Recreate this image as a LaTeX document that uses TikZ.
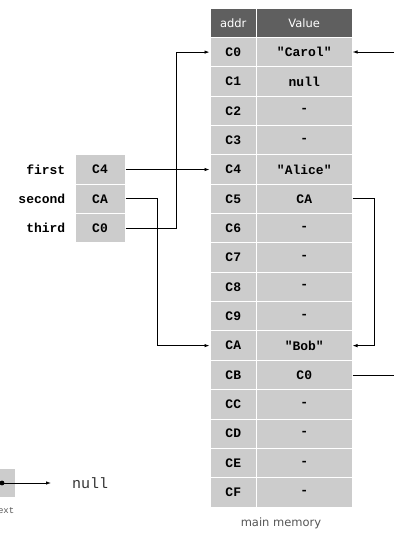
\documentclass[tikz,border=0pt]{standalone}
\usepackage{fontspec}
\setmainfont{Liberation Serif}
\newfontfamily\memfont{Liberation Mono}
\newfontfamily\hdrfont{DejaVu Sans}
\usetikzlibrary{arrows.meta}
\definecolor{cellgray}{HTML}{CCCCCC}
\definecolor{hdrgray}{HTML}{5F5F5F}
\definecolor{capgray}{HTML}{555555}
\begin{document}
\begin{tikzpicture}[x=1pt,y=-1pt,
  cell/.style={draw=white,line width=1pt,fill=cellgray,inner sep=0pt,
    font=\memfont\bfseries\fontsize{13}{15}\selectfont},
  addrcell/.style={cell,minimum width=46.5pt,minimum height=29.35pt},
  valcell/.style={cell,minimum width=95.5pt,minimum height=29.35pt},
  varcell/.style={cell,minimum width=50pt,minimum height=29.35pt},
  hdr/.style={draw=white,line width=1pt,fill=hdrgray,inner sep=0pt,text=white,
    minimum height=29.35pt,font=\hdrfont\fontsize{11.5}{13}\selectfont},
  varlabel/.style={anchor=east,inner sep=0pt,font=\memfont\bfseries\fontsize{13}{15}\selectfont},
  link/.style={draw=black,line width=0.8pt},
  arr/.style={link,-{Latex[length=5pt,width=3.5pt]}}
]
\useasboundingbox (0,0) rectangle (394,534);
% header
\node[hdr,minimum width=46.5pt] (ha) at (233.25,22.8) {addr};
\node[hdr,minimum width=95.5pt] (hv) at (304.25,22.8) {Value};
% memory rows
\foreach \k/\a/\v [count=\i] in {0/C0/"Carol",1/C1/null,2/C2/-,3/C3/-,4/C4/"Alice",5/C5/CA,6/C6/-,7/C7/-,8/C8/-,9/C9/-,A/CA/"Bob",B/CB/C0,C/CC/-,D/CD/-,E/CE/-,F/CF/-}{
  \node[addrcell] (a\k) at (233.25,{8.1+\i*29.35+14.675}) {\a};
  \node[valcell] (v\k) at (304.25,{8.1+\i*29.35+14.675}) {\v};
}
\node[font=\hdrfont\fontsize{11.5}{13}\selectfont,text=capgray] (cap) at (281,523) {main memory};
% variables
\node[varcell] (first) at (100,{8.1+5*29.35+14.675}) {C4};
\node[varcell] (second) at (100,{8.1+6*29.35+14.675}) {CA};
\node[varcell] (third) at (100,{8.1+7*29.35+14.675}) {C0};
\node[varlabel] (lfirst) at ([xshift=-9pt]first.west) {first};
\node[varlabel] (lsecond) at ([xshift=-9pt]second.west) {second};
\node[varlabel] (lthird) at ([xshift=-9pt]third.west) {third};
% connectors from variables
\coordinate (xsec) at (157,0);
\coordinate (xthi) at (176,0);
\draw[arr] (first.east) -- (a4.west);
\draw[arr] (second.east) -| (xsec |- aA.west) -- (aA.west);
\draw[arr] (third.east) -| (xthi |- a0.west) -- (a0.west);
% memory links
\coordinate (loopx) at (374,0);
\draw[arr] (v5.east) -- (loopx |- v5.east) -- (loopx |- vA.east) -- (vA.east);
\coordinate (inC0) at (394,52);
\draw[arr] (inC0) -- (inC0 -| v0.east);
\coordinate (outCB) at (394,0);
\draw[link] (vB.east) -- (outCB |- vB.east);
% partial node bottom-left
\node[draw=white,line width=1pt,fill=cellgray,minimum width=40pt,minimum height=29pt,inner sep=0pt] (nbox) at (-5,483) {};
\node[inner sep=0pt,anchor=north east,font=\memfont\fontsize{9}{10}\selectfont,text=capgray] (nlab) at (14.5,507) {next};
\coordinate (ndot) at (2,483);
\fill (ndot) circle (2.4pt);
\coordinate (nend) at (51,483);
\node[inner sep=0pt,anchor=west,font=\memfont\fontsize{15}{17}\selectfont,text=black!80] (nnull) at (72,483) {null};
\draw[arr] (ndot) -- (nend);
\end{tikzpicture}
\end{document}
